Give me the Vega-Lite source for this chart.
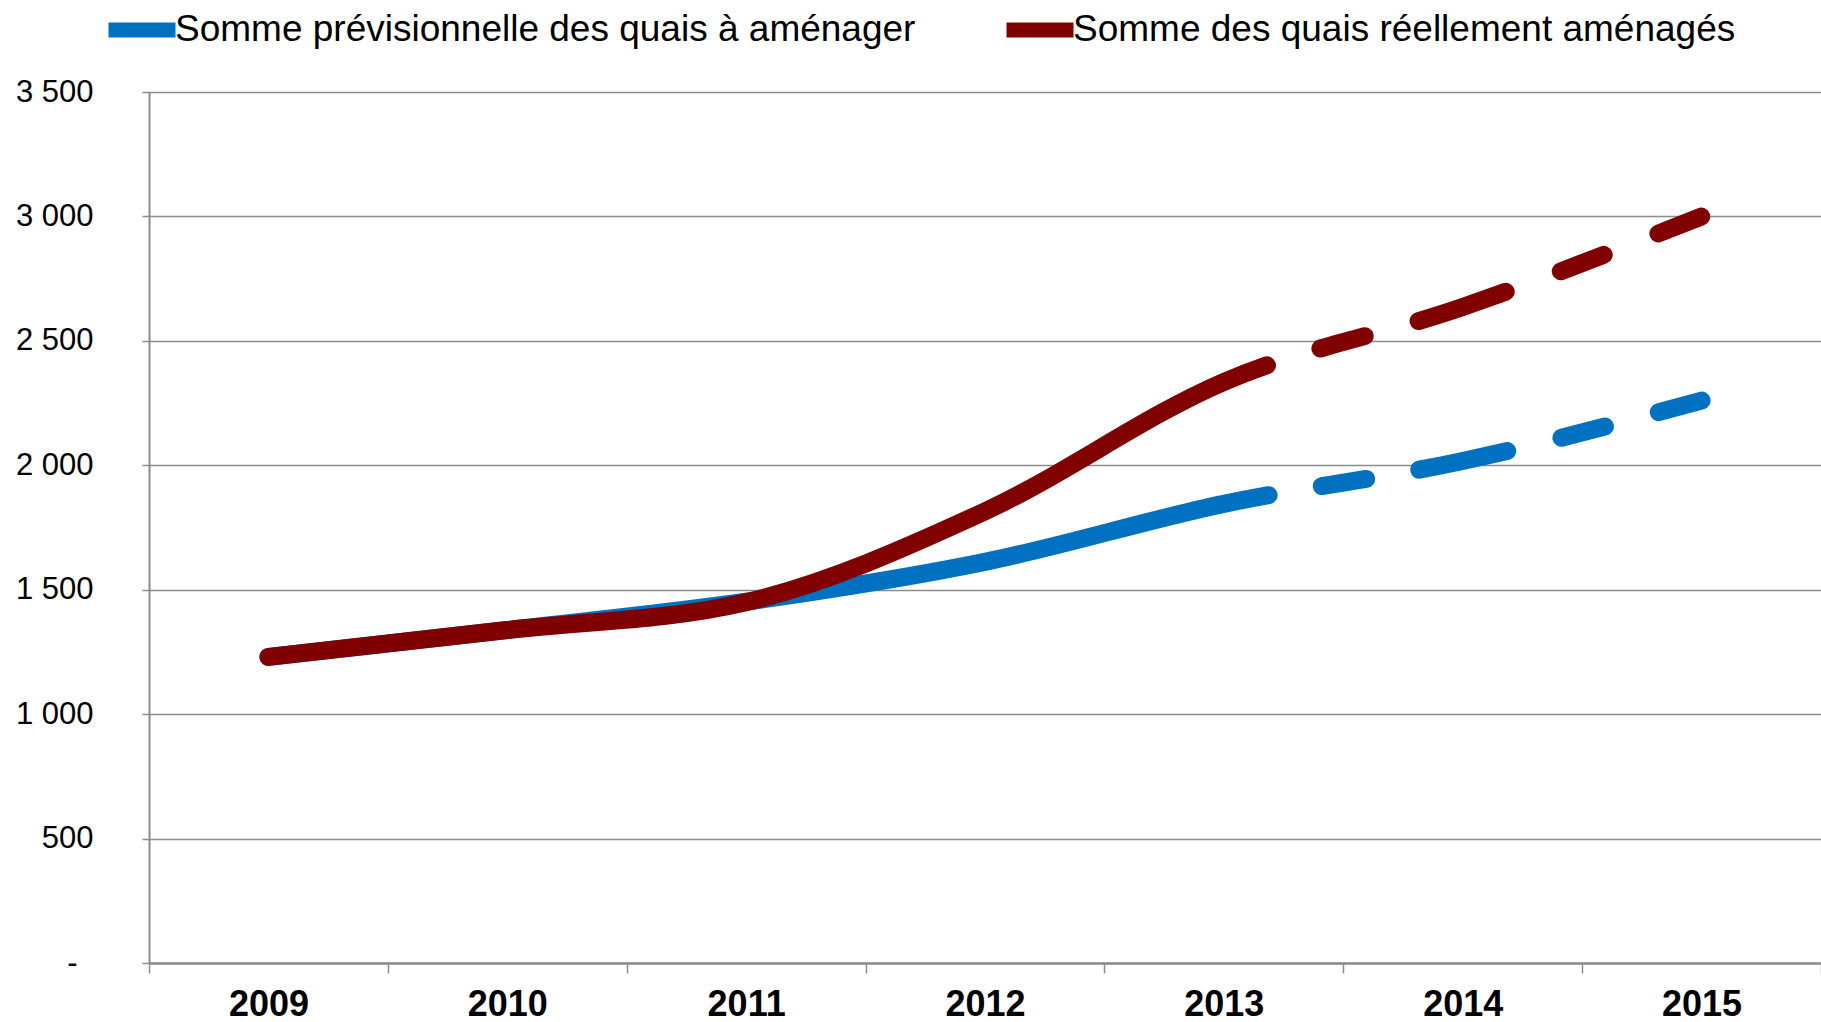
{
  "$schema": "https://vega.github.io/schema/vega-lite/v6.json",
  "width": 1672,
  "height": 871,
  "autosize": {"type": "none"},
  "padding": {"left": 149, "top": 92, "right": 0, "bottom": 59},
  "background": "white",
  "config": {
    "view": {"stroke": null},
    "font": "Liberation Sans",
    "axis": {"title": null, "labelColor": "black", "labelFont": "Liberation Sans"},
    "legend": {
      "orient": "none",
      "legendX": -48,
      "legendY": -103,
      "direction": "horizontal",
      "title": null,
      "labelFont": "Liberation Sans",
      "labelFontSize": 37,
      "labelColor": "black",
      "labelLimit": 0,
      "labelOffset": -8,
      "symbolType": "stroke",
      "symbolSize": 4489,
      "symbolStrokeWidth": 15,
      "columnPadding": 60
    }
  },
  "data": {
    "values": [
      {"year": 2009, "series": "Somme prévisionnelle des quais à aménager", "value": 1230},
      {"year": 2010, "series": "Somme prévisionnelle des quais à aménager", "value": 1338},
      {"year": 2011, "series": "Somme prévisionnelle des quais à aménager", "value": 1452},
      {"year": 2012, "series": "Somme prévisionnelle des quais à aménager", "value": 1612},
      {"year": 2013, "series": "Somme prévisionnelle des quais à aménager", "value": 1845},
      {"year": 2014, "series": "Somme prévisionnelle des quais à aménager", "value": 2017},
      {"year": 2015, "series": "Somme prévisionnelle des quais à aménager", "value": 2260},
      {"year": 2009, "series": "Somme des quais réellement aménagés", "value": 1230},
      {"year": 2010, "series": "Somme des quais réellement aménagés", "value": 1338},
      {"year": 2011, "series": "Somme des quais réellement aménagés", "value": 1450},
      {"year": 2012, "series": "Somme des quais réellement aménagés", "value": 1815},
      {"year": 2013, "series": "Somme des quais réellement aménagés", "value": 2335},
      {"year": 2014, "series": "Somme des quais réellement aménagés", "value": 2636},
      {"year": 2015, "series": "Somme des quais réellement aménagés", "value": 3000}
    ]
  },
  "mark": {"type": "line", "strokeWidth": 18, "strokeCap": "round", "strokeJoin": "round", "interpolate": "monotone"},
  "encoding": {
    "x": {
      "field": "year",
      "type": "ordinal",
      "bandPosition": 0.5,
      "scale": {"type": "band", "paddingInner": 0, "paddingOuter": 0},
      "axis": {
        "labelAngle": 0,
        "labelFontSize": 36,
        "labelFontWeight": "bold",
        "tickBand": "extent",
        "tickSize": 10,
        "tickColor": "#8c8c8c",
        "tickWidth": 1.5,
        "domainColor": "#8c8c8c",
        "domainWidth": 2.5,
        "labelPadding": 14,
        "grid": false
      }
    },
    "y": {
      "field": "value",
      "type": "quantitative",
      "scale": {"domain": [0, 3500], "nice": false, "zero": true},
      "axis": {
        "values": [0, 500, 1000, 1500, 2000, 2500, 3000, 3500],
        "labelExpr": "datum.value === 0 ? '-' : replace(datum.label, ',', ' ')",
        "labelFontSize": 31,
        "labelPadding": {"condition": {"test": "datum.value === 0", "value": 65}, "value": 49},
        "tickSize": 7,
        "tickColor": "#8c8c8c",
        "tickWidth": 1.5,
        "domainColor": "#8c8c8c",
        "domainWidth": 2,
        "grid": true,
        "gridColor": "#8c8c8c",
        "gridWidth": 1.5
      }
    },
    "color": {
      "field": "series",
      "type": "nominal",
      "sort": ["Somme prévisionnelle des quais à aménager", "Somme des quais réellement aménagés"],
      "scale": {
        "domain": ["Somme prévisionnelle des quais à aménager", "Somme des quais réellement aménagés"],
        "range": ["#0070c0", "#800000"]
      },
      "legend": {}
    },
    "strokeDash": {
      "field": "series",
      "type": "nominal",
      "sort": ["Somme prévisionnelle des quais à aménager", "Somme des quais réellement aménagés"],
      "scale": {
        "domain": ["Somme prévisionnelle des quais à aménager", "Somme des quais réellement aménagés"],
        "range": [
          [1014.5, 53.9, 45, 53.9, 90, 55.7, 45, 55.7, 45, 1000],
          [1055, 56, 46, 56, 92, 58.7, 46, 58.7, 46, 1000]
        ]
      }
    }
  }
}
